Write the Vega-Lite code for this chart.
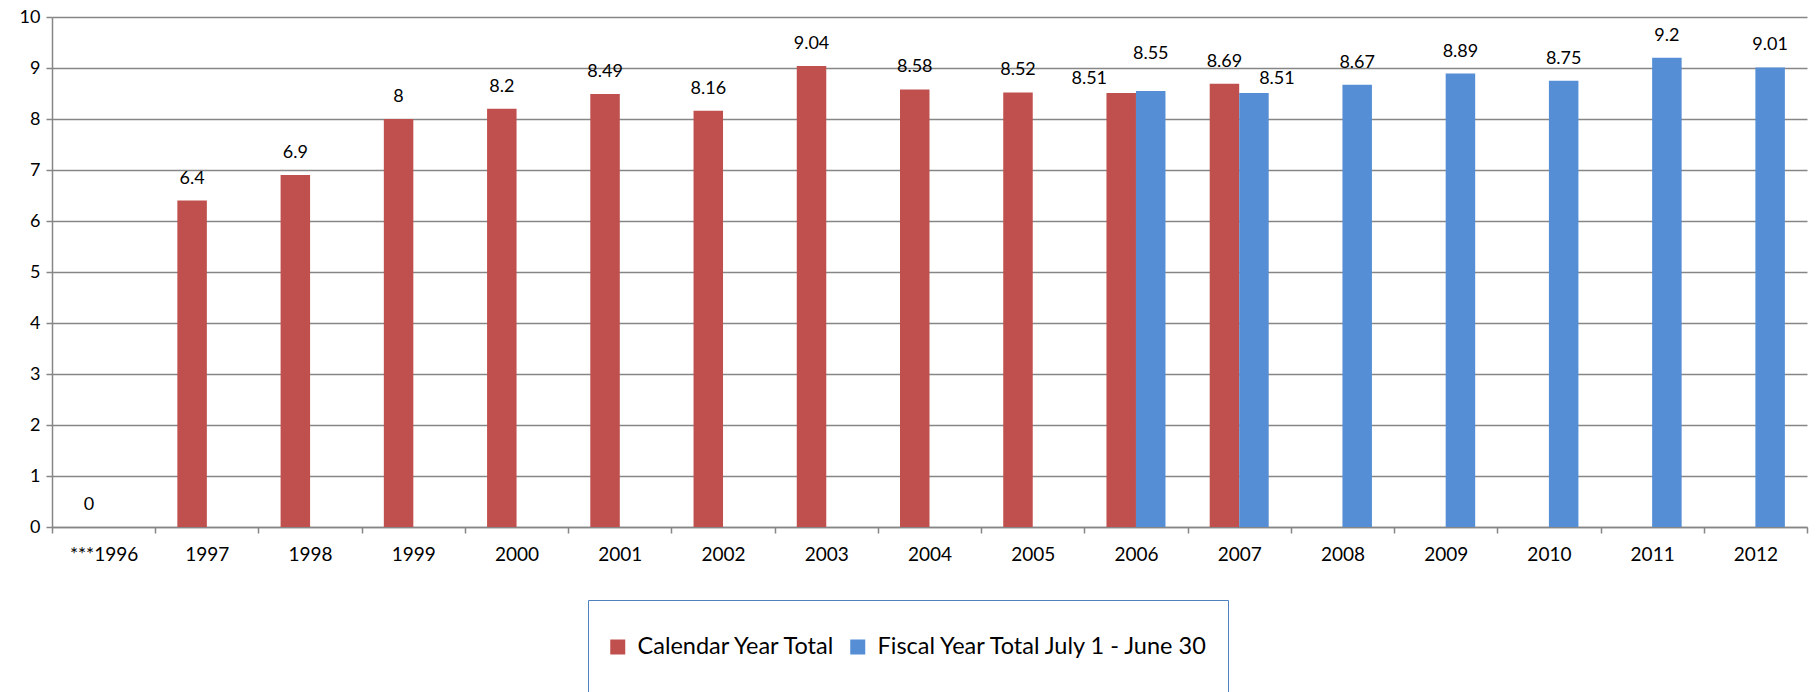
{
  "$schema": "https://vega.github.io/schema/vega-lite/v6.json",
  "width": 1755,
  "height": 510,
  "autosize": {"type": "none"},
  "padding": {"left": 52, "top": 17, "right": 9, "bottom": 165},
  "background": "white",
  "config": {
    "view": {"stroke": null},
    "font": "Lato",
    "axis": {"labelFont": "Lato", "labelColor": "#000000", "labelFontSize": 19, "domainColor": "#868686", "tickColor": "#868686", "gridColor": "#868686", "domainWidth": 1.5, "tickWidth": 1.5, "gridWidth": 1.3, "tickSize": 6, "title": null}
  },
  "data": {
    "values": [
      {"year": "***1996", "series": "Calendar Year Total", "value": 0},
      {"year": "1997", "series": "Calendar Year Total", "value": 6.4},
      {"year": "1998", "series": "Calendar Year Total", "value": 6.9},
      {"year": "1999", "series": "Calendar Year Total", "value": 8},
      {"year": "2000", "series": "Calendar Year Total", "value": 8.2},
      {"year": "2001", "series": "Calendar Year Total", "value": 8.49},
      {"year": "2002", "series": "Calendar Year Total", "value": 8.16},
      {"year": "2003", "series": "Calendar Year Total", "value": 9.04},
      {"year": "2004", "series": "Calendar Year Total", "value": 8.58},
      {"year": "2005", "series": "Calendar Year Total", "value": 8.52},
      {"year": "2006", "series": "Calendar Year Total", "value": 8.51},
      {"year": "2007", "series": "Calendar Year Total", "value": 8.69},
      {"year": "2006", "series": "Fiscal Year Total July 1 - June 30", "value": 8.55},
      {"year": "2007", "series": "Fiscal Year Total July 1 - June 30", "value": 8.51},
      {"year": "2008", "series": "Fiscal Year Total July 1 - June 30", "value": 8.67},
      {"year": "2009", "series": "Fiscal Year Total July 1 - June 30", "value": 8.89},
      {"year": "2010", "series": "Fiscal Year Total July 1 - June 30", "value": 8.75},
      {"year": "2011", "series": "Fiscal Year Total July 1 - June 30", "value": 9.2},
      {"year": "2012", "series": "Fiscal Year Total July 1 - June 30", "value": 9.01}
    ]
  },
  "encoding": {
    "x": {
      "field": "year", "type": "nominal",
      "sort": ["***1996","1997","1998","1999","2000","2001","2002","2003","2004","2005","2006","2007","2008","2009","2010","2011","2012"],
      "scale": {"paddingInner": 0, "paddingOuter": 0},
      "axis": {"labelAngle": 0, "tickBand": "extent", "labelPadding": 12, "ticks": true, "grid": false, "labelAlign": "center"}
    },
    "xOffset": {
      "field": "series", "type": "nominal",
      "scale": {"domain": ["Calendar Year Total", "Fiscal Year Total July 1 - June 30"], "paddingInner": 0, "paddingOuter": 0.75}
    },
    "y": {
      "field": "value", "type": "quantitative",
      "scale": {"domain": [0, 10], "nice": false},
      "axis": {"values": [0,1,2,3,4,5,6,7,8,9,10], "grid": true, "labelPadding": 6, "labelFontSize": 18}
    }
  },
  "layer": [
    {
      "mark": {"type": "bar"},
      "encoding": {
        "color": {
          "field": "series", "type": "nominal",
          "scale": {"domain": ["Calendar Year Total", "Fiscal Year Total July 1 - June 30"], "range": ["#C0504D", "#558ED5"]},
          "legend": {
            "title": null, "orient": "none", "direction": "horizontal",
            "legendX": 536, "legendY": 583,
            "strokeColor": "#4F81BD", "padding": 18, "clipHeight": 58,
            "symbolType": "square", "symbolSize": 225, "symbolStrokeWidth": 0,
            "labelFont": "Lato", "labelFontSize": 23.5, "labelColor": "#000000",
            "labelOffset": 8, "columnPadding": 10, "labelLimit": 600
          }
        }
      }
    },
    {
      "transform": [{"filter": "!((datum.year == '2006') || (datum.year == '2007' && datum.series != 'Calendar Year Total'))"}],
      "mark": {"type": "text", "baseline": "alphabetic", "dy": -17, "fontSize": 18, "font": "Lato", "color": "#000000"},
      "encoding": {"text": {"field": "value", "type": "nominal"}}
    },
    {
      "transform": [{"filter": "datum.year == '2006' && datum.series == 'Calendar Year Total'"}],
      "mark": {"type": "text", "baseline": "alphabetic", "dy": -9, "dx": -32, "fontSize": 18, "font": "Lato", "color": "#000000"},
      "encoding": {"text": {"field": "value", "type": "nominal"}}
    },
    {
      "transform": [{"filter": "datum.year == '2006' && datum.series != 'Calendar Year Total'"}],
      "mark": {"type": "text", "baseline": "alphabetic", "dy": -32, "fontSize": 18, "font": "Lato", "color": "#000000"},
      "encoding": {"text": {"field": "value", "type": "nominal"}}
    },
    {
      "transform": [{"filter": "datum.year == '2007' && datum.series != 'Calendar Year Total'"}],
      "mark": {"type": "text", "baseline": "alphabetic", "dy": -9, "dx": 23, "fontSize": 18, "font": "Lato", "color": "#000000"},
      "encoding": {"text": {"field": "value", "type": "nominal"}}
    }
  ]
}
